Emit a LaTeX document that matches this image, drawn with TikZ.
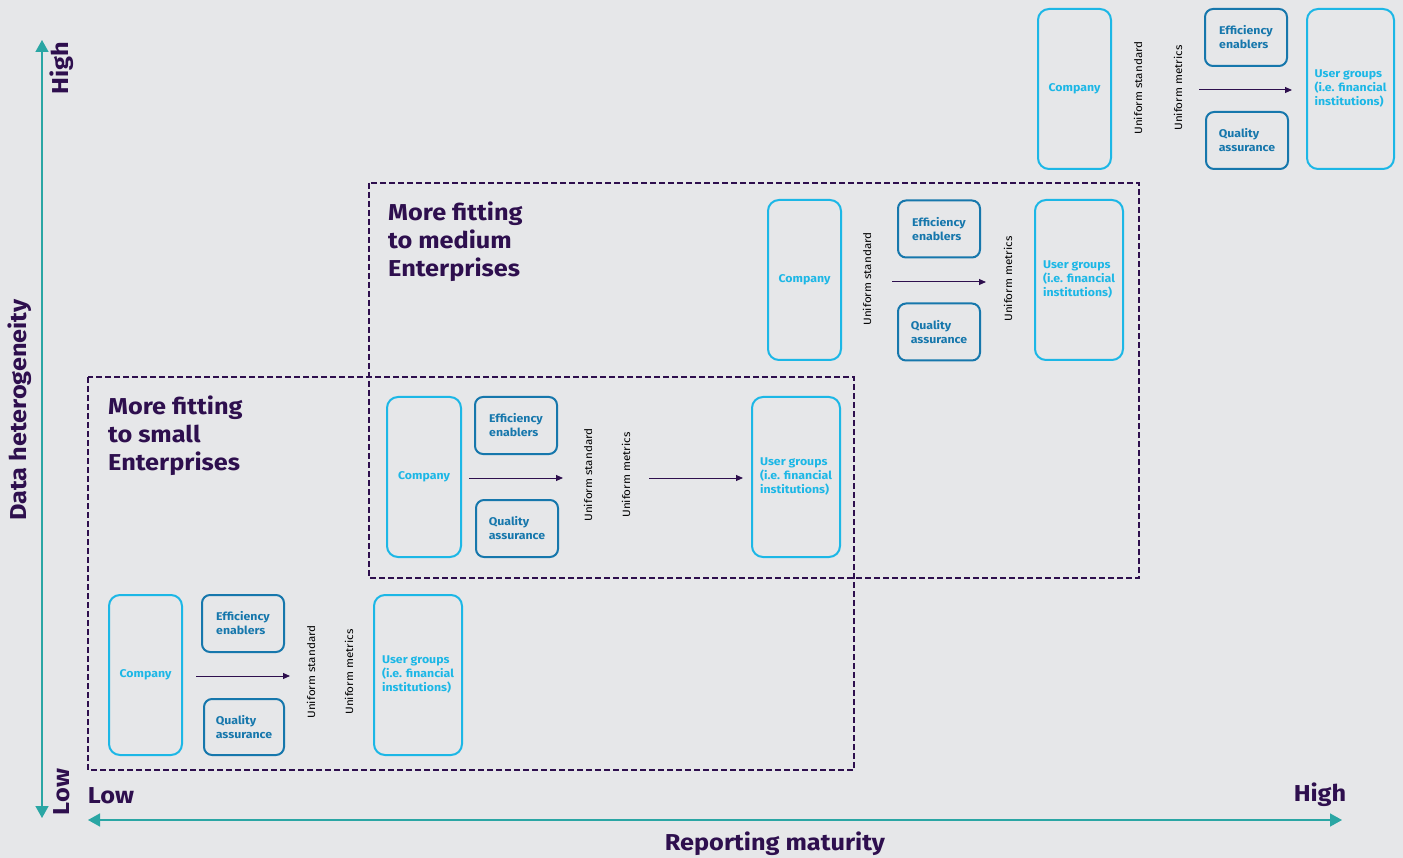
\documentclass[tikz,border=0pt]{standalone}
\usepackage{fontspec}
\setmainfont{Fira Sans}[FakeStretch=1.1]
\usetikzlibrary{arrows.meta}
\definecolor{bg}{HTML}{E6E7E9}
\definecolor{purp}{HTML}{2E0F4E}
\definecolor{teal}{HTML}{2AA6A4}
\definecolor{cyanc}{HTML}{1CB7E6}
\definecolor{bluec}{HTML}{1677AC}
\tikzset{
  bigbox/.style={draw=cyanc, line width=2pt, rounded corners=11pt, minimum width=#1, minimum height=160pt, inner sep=0pt, text=cyanc, align=left, font=\fontsize{11.2}{14}\selectfont\bfseries},
  smallbox/.style={draw=bluec, line width=2pt, rounded corners=8pt, minimum width=82pt, minimum height=57pt, inner sep=0pt, text=bluec, align=left, font=\fontsize{11.2}{14}\selectfont\bfseries},
  rotlab/.style={rotate=90, text=black, font=\fontsize{10.6}{13}\selectfont, inner sep=0pt},
  flow/.style={draw=purp, line width=1pt, -{Triangle[length=7pt,width=6pt]}},
  axis/.style={draw=teal, line width=1.5pt, {Triangle[length=12pt,width=13pt]}-{Triangle[length=12pt,width=13pt]}},
  zone/.style={draw=purp, line width=2pt, dash pattern=on 6pt off 3pt},
  title/.style={text=purp, font=\fontsize{23}{28}\selectfont\bfseries, align=left, inner sep=0pt, anchor=north west},
  axlab/.style={text=purp, font=\fontsize{23}{25}\selectfont\bfseries, inner sep=0pt}
}
\begin{document}
\begin{tikzpicture}[x=1pt,y=-1pt]
\fill[bg] (0,0) rectangle (1403,858);
\useasboundingbox (0,0) rectangle (1403,858);

% axes
\coordinate (ytop) at (42,40);
\coordinate (ybot) at (42,818);
\coordinate (xl) at (88,820);
\coordinate (xr) at (1342,820);
\draw[axis] (ybot) -- (ytop);
\draw[axis] (xl) -- (xr);
\node[axlab, rotate=90] (yhigh) at (62,68) {High};
\node[axlab, rotate=90] (ylow) at (62,792) {Low};
\node[axlab, rotate=90] (ylab) at (20,410) {Data heterogeneity};
\node[axlab] (xlow) at (111,796) {Low};
\node[axlab] (xhigh) at (1320,795) {High};
\node[axlab] (xlab) at (775,844) {Reporting maturity};

% zones
\draw[zone] (88,377) rectangle (854,770);
\draw[zone] (369,183) rectangle (1139,578);
\node[title] (t1) at (108,396) {More fitting\\to small\\Enterprises};
\node[title] (t2) at (388,202) {More fitting\\to medium\\Enterprises};

% group 1
\node[bigbox=73pt] (c1) at (145.5,675) {Company};
\node[smallbox] (e1) at (243,623.5) {Efficiency\\enablers};
\node[smallbox, minimum width=80pt, minimum height=56pt] (q1) at (244,727) {Quality\\assurance};
\node[rotlab] (s1) at (311,672) {Uniform standard};
\node[rotlab] (m1) at (349,672) {Uniform metrics};
\node[bigbox=88pt] (u1) at (418,675) {User groups\\(i.e. financial\\institutions)};
\coordinate (a1s) at (196,676);
\coordinate (a1e) at (290,676);
\draw[flow] (a1s) -- (a1e);

% group 2
\node[bigbox=74pt] (c2) at (424,477) {Company};
\node[smallbox] (e2) at (516,425.5) {Efficiency\\enablers};
\node[smallbox] (q2) at (517,528.5) {Quality\\assurance};
\node[rotlab] (s2) at (588,475) {Uniform standard};
\node[rotlab] (m2) at (626,475) {Uniform metrics};
\node[bigbox=88pt] (u2) at (796,477) {User groups\\(i.e. financial\\institutions)};
\coordinate (a2s) at (469,478);
\coordinate (a2e) at (563,478);
\coordinate (a3s) at (649,478);
\coordinate (a3e) at (743,478);
\draw[flow] (a2s) -- (a2e);
\draw[flow] (a3s) -- (a3e);

% group 3
\node[bigbox=73pt] (c3) at (804.5,280) {Company};
\node[rotlab] (s3) at (867,279) {Uniform standard};
\node[smallbox] (e3) at (939,229) {Efficiency\\enablers};
\node[smallbox] (q3) at (939,332) {Quality\\assurance};
\node[rotlab] (m3) at (1008,279) {Uniform metrics};
\node[bigbox=88pt] (u3) at (1079,280) {User groups\\(i.e. financial\\institutions)};
\coordinate (a4s) at (892,282);
\coordinate (a4e) at (986,282);
\draw[flow] (a4s) -- (a4e);

% group 4
\node[bigbox=73pt] (c4) at (1074.5,89) {Company};
\node[rotlab] (s4) at (1138,88) {Uniform standard};
\node[rotlab] (m4) at (1178,88) {Uniform metrics};
\node[smallbox] (e4) at (1246,37.5) {Efficiency\\enablers};
\node[smallbox] (q4) at (1247,140.5) {Quality\\assurance};
\node[bigbox=87pt] (u4) at (1350.5,89) {User groups\\(i.e. financial\\institutions)};
\coordinate (a5s) at (1199,90);
\coordinate (a5e) at (1292,90);
\draw[flow] (a5s) -- (a5e);
\end{tikzpicture}
\end{document}
